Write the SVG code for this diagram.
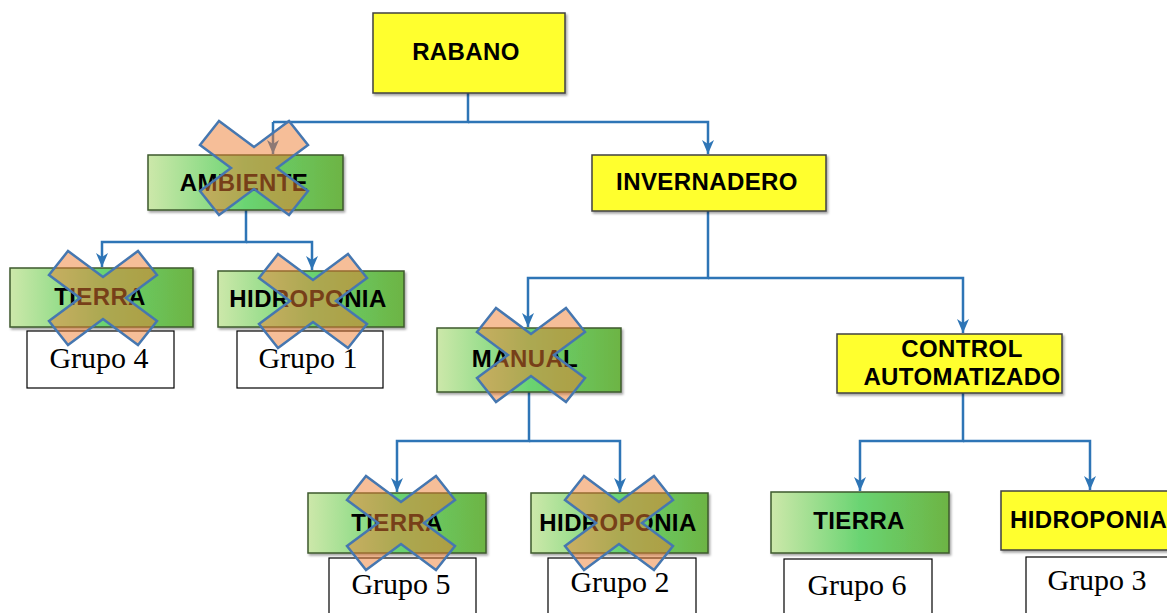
<svg xmlns="http://www.w3.org/2000/svg" width="1167" height="613" viewBox="0 0 1167 613">
<defs>
<linearGradient id="green" x1="0" y1="0" x2="1" y2="0">
<stop offset="0" stop-color="#CDE8AA"/>
<stop offset="0.5" stop-color="#6AD472"/>
<stop offset="1" stop-color="#6DB444"/>
</linearGradient>
<filter id="sh" x="-10%" y="-10%" width="130%" height="140%">
<feDropShadow dx="1.5" dy="2" stdDeviation="1.2" flood-color="#000" flood-opacity="0.35"/>
</filter>
<marker id="arr" markerUnits="userSpaceOnUse" markerWidth="16" markerHeight="16" viewBox="0 0 16 16" refX="15" refY="8" orient="auto">
<path d="M1,2 L15,8 L1,14 L5,8 Z" fill="#2E75B6"/>
</marker>
<polygon id="xmark" points="-54,-23 -35,-47 0,-21 35,-47 54,-23 23,0 54,23 35,47 0,21 -35,47 -54,23 -23,0"/>
</defs>
<style>
.yel{fill:#FFFF2E;stroke:#404040;stroke-width:1.5;filter:url(#sh)}
.grn{fill:url(#green);stroke:#3E5A2E;stroke-width:1.5;filter:url(#sh)}
.grp{fill:#fff;stroke:#000;stroke-width:1.2}
.lbl{font-family:"Liberation Sans",Arial,sans-serif;font-weight:bold;font-size:24px;fill:#000;text-anchor:middle;letter-spacing:0.4px}
.gt{font-family:"Liberation Serif","Times New Roman",serif;font-size:30px;fill:#000;text-anchor:middle}
.con{fill:none;stroke:#2E75B6;stroke-width:2.5}
.x{fill:#ED7D31;fill-opacity:0.5;stroke:#4677B0;stroke-width:2.5;stroke-linejoin:miter}
</style>
<rect width="1167" height="613" fill="#fff"/>

<g id="connectors">
<path class="con" d="M468,93 V122 H273"/>
<path class="con" d="M273,122 V154" marker-end="url(#arr)"/>
<path class="con" d="M468,122 H708 V154" marker-end="url(#arr)"/>
<path class="con" d="M246,210 V242 H102 V267" marker-end="url(#arr)"/>
<path class="con" d="M246,242 H312 V270" marker-end="url(#arr)"/>
<path class="con" d="M708,211 V278 H528 V327" marker-end="url(#arr)"/>
<path class="con" d="M708,278 H963 V333" marker-end="url(#arr)"/>
<path class="con" d="M529,392 V441 H397 V492" marker-end="url(#arr)"/>
<path class="con" d="M529,441 H620 V492" marker-end="url(#arr)"/>
<path class="con" d="M963,393 V441 H860 V491" marker-end="url(#arr)"/>
<path class="con" d="M963,441 H1090 V490" marker-end="url(#arr)"/>
</g>

<g id="rabano"><rect class="yel" x="373" y="13" width="192" height="80"/><text class="lbl" x="466" y="60">RABANO</text></g>
<g id="ambiente"><rect class="grn" x="148" y="155" width="195" height="55"/><text class="lbl" x="244" y="191">AMBIENTE</text></g>
<g id="invernadero"><rect class="yel" x="592" y="155" width="234" height="56"/><text class="lbl" x="707" y="190">INVERNADERO</text></g>
<g id="tierra4"><rect class="grn" x="10" y="268" width="183" height="59"/><text class="lbl" x="100" y="305">TIERRA</text></g>
<g id="hidroponia1"><rect class="grn" x="218" y="271" width="186" height="56"/><text class="lbl" x="308" y="307">HIDROPONIA</text></g>
<g id="grupo4"><rect class="grp" x="27" y="331" width="147" height="57"/><text class="gt" x="99" y="368">Grupo 4</text></g>
<g id="grupo1"><rect class="grp" x="237" y="331" width="146" height="57"/><text class="gt" x="308" y="368">Grupo 1</text></g>
<g id="manual"><rect class="grn" x="437" y="328" width="184" height="64"/><text class="lbl" x="525" y="367">MANUAL</text></g>
<g id="control"><rect class="yel" x="837" y="334" width="225" height="59"/><text class="lbl" x="962" y="357">CONTROL</text><text class="lbl" x="962" y="385">AUTOMATIZADO</text></g>
<g id="tierra5"><rect class="grn" x="308" y="493" width="178" height="60"/><text class="lbl" x="397" y="531">TIERRA</text></g>
<g id="hidroponia2"><rect class="grn" x="531" y="493" width="177" height="60"/><text class="lbl" x="618" y="531">HIDROPONIA</text></g>
<g id="tierra6"><rect class="grn" x="771" y="492" width="178" height="61"/><text class="lbl" x="859" y="529">TIERRA</text></g>
<g id="hidroponia3"><rect class="yel" x="1001" y="491" width="175" height="59"/><text class="lbl" x="1010" y="528" style="text-anchor:start">HIDROPONIA</text></g>
<g id="grupo5"><rect class="grp" x="329" y="558" width="147" height="60"/><text class="gt" x="401" y="594">Grupo 5</text></g>
<g id="grupo2"><rect class="grp" x="548" y="558" width="148" height="60"/><text class="gt" x="620" y="592">Grupo 2</text></g>
<g id="grupo6"><rect class="grp" x="784" y="559" width="148" height="60"/><text class="gt" x="857" y="595">Grupo 6</text></g>
<g id="grupo3"><rect class="grp" x="1026" y="557" width="150" height="60"/><text class="gt" x="1097" y="590">Grupo 3</text></g>

<g id="crosses">
<use href="#xmark" class="x" transform="translate(254,168)"/>
<use href="#xmark" class="x" transform="translate(103,298)"/>
<use href="#xmark" class="x" transform="translate(313,301)"/>
<use href="#xmark" class="x" transform="translate(531,355)"/>
<use href="#xmark" class="x" transform="translate(401,523)"/>
<use href="#xmark" class="x" transform="translate(619,523)"/>
</g>
</svg>
